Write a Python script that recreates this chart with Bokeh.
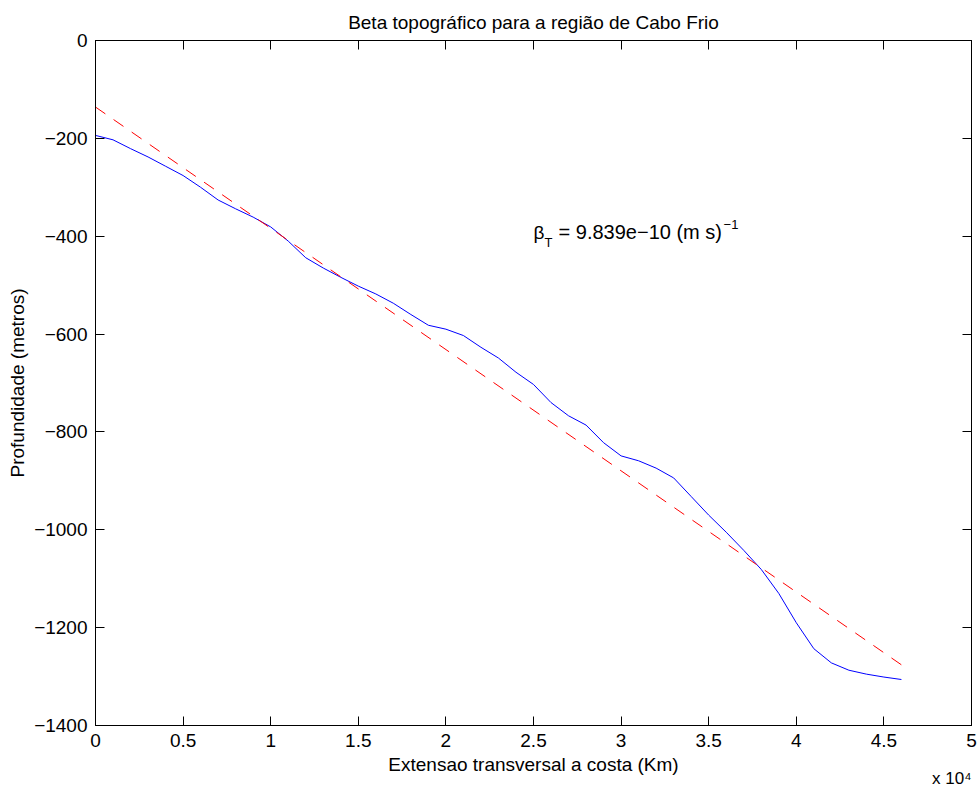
from bokeh.plotting import figure
from bokeh.models import LinearAxis, FixedTicker, Label, Range1d, Title
from bokeh.embed import file_html
from bokeh.resources import INLINE

# ---- data ----
dist_m = [0, 1000, 2000, 3000, 4000, 5000, 6000, 7000, 8000, 9000,
          10000, 11000, 12000, 13000, 14000, 15000, 16000, 17000, 18000, 19000,
          20000, 21000, 22000, 23000, 24000, 25000, 26000, 27000, 28000, 29000,
          30000, 31000, 32000, 33000, 34000, 35000, 36000, 37000, 38000, 39000,
          40000, 41000, 42000, 43000, 44000, 45000, 46000]
depth_m = [-194, -203, -221, -238, -257, -276, -300, -326, -344, -361,
           -381, -410, -444, -465, -484, -502, -518, -537, -560, -582,
           -590, -603, -627, -649, -678, -703, -740, -767, -786, -822,
           -849, -859, -874, -894, -932, -970, -1005, -1042, -1081, -1130,
           -1190, -1243, -1272, -1287, -1295, -1301, -1306]
fit_x = [0, 46000]
fit_y = [-136, -1276]

x_ticks = [0, 5000, 10000, 15000, 20000, 25000, 30000, 35000, 40000, 45000, 50000]
x_tick_labels = ["0", "0.5", "1", "1.5", "2", "2.5", "3", "3.5", "4", "4.5", "5"]
y_ticks = [-1400, -1200, -1000, -800, -600, -400, -200, 0]
y_tick_labels = ["\u22121400", "\u22121200", "\u22121000", "\u2212800", "\u2212600",
                 "\u2212400", "\u2212200", "0"]

FONT = "Liberation Sans"
FS = "19px"

p = figure(width=978, height=785, output_backend="svg", toolbar_location=None,
           x_range=Range1d(0, 50000), y_range=Range1d(-1400, 0),
           x_axis_location=None, y_axis_location=None,
           min_border_left=95, min_border_right=7, min_border_top=40, min_border_bottom=60)
p.grid.visible = False
p.outline_line_color = "black"
p.outline_line_width = 1
p.background_fill_color = "white"
p.border_fill_color = "white"

p.title.text = "Beta topográfico para a região de Cabo Frio"
p.title.align = "center"
p.title.text_font = FONT
p.title.text_font_size = FS
p.title.text_font_style = "normal"
p.title.text_color = "black"
p.title.standoff = 16

def style_axis(ax, ticks, labels, show_labels):
    ax.ticker = FixedTicker(ticks=ticks)
    ax.major_label_overrides = {t: l for t, l in zip(ticks, labels)}
    ax.major_tick_in = 9
    ax.major_tick_out = 0
    ax.minor_tick_in = 0
    ax.minor_tick_out = 0
    ax.axis_line_color = "black"
    ax.major_tick_line_color = "black"
    ax.major_label_text_font = FONT
    ax.major_label_text_color = "black"
    ax.axis_label_text_font = FONT
    ax.axis_label_text_font_style = "normal"
    ax.axis_label_text_color = "black"
    ax.axis_label_text_font_size = FS
    if show_labels:
        ax.major_label_text_font_size = FS
        ax.major_label_standoff = 8
    else:
        ax.major_label_text_font_size = "0px"
        ax.major_label_standoff = 0

xb = LinearAxis(axis_label="Extensao transversal a costa (Km)")
style_axis(xb, x_ticks, x_tick_labels, True)
xb.axis_label_standoff = 4
p.add_layout(xb, "below")

yl = LinearAxis(axis_label="Profundidade (metros)")
style_axis(yl, y_ticks, y_tick_labels, True)
yl.axis_label_standoff = 3
p.add_layout(yl, "left")

xt = LinearAxis()
style_axis(xt, x_ticks, [""] * len(x_ticks), False)
p.add_layout(xt, "above")

yr = LinearAxis()
style_axis(yr, y_ticks, [""] * len(y_ticks), False)
p.add_layout(yr, "right")

# exponent of the x axis, bottom right
p.add_layout(Title(text="x 10\u2074", align="right", text_font=FONT, text_font_size="17px",
                   text_font_style="normal", text_color="black", standoff=-21), "below")

p.line(dist_m, depth_m, line_color="#0000ff", line_width=1)
p.line(fit_x, fit_y, line_color="#ff0000", line_width=1, line_dash="12 10")

# beta annotation
p.add_layout(Label(x=25000, y=-392, text="\u03b2", text_font=FONT,
                   text_font_size=FS, text_baseline="alphabetic", text_color="black"))
p.add_layout(Label(x=25630, y=-413, text="T", text_font=FONT,
                   text_font_size="13px", text_baseline="alphabetic", text_color="black"))
p.add_layout(Label(x=26430, y=-392, text="= 9.839e\u221210 (m s)", text_font=FONT,
                   text_font_size="20px", text_baseline="alphabetic", text_color="black"))
p.add_layout(Label(x=35850, y=-376, text="\u22121", text_font=FONT,
                   text_font_size="13px", text_baseline="alphabetic", text_color="black"))

open("out.html", "w").write(file_html(p, INLINE))
